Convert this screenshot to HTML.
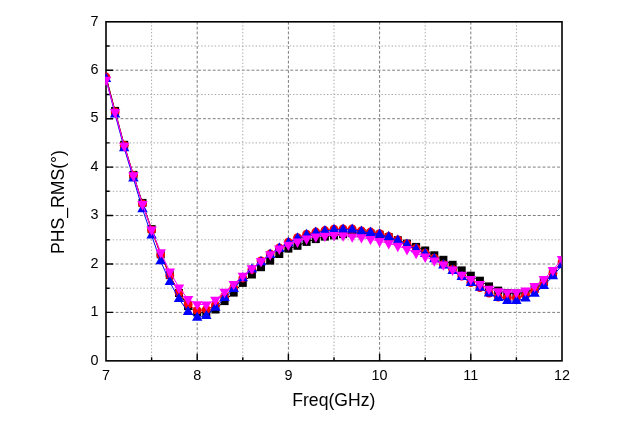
<!DOCTYPE html><html><head><meta charset="utf-8"><title>PHS_RMS</title><style>html,body{margin:0;padding:0;background:#fff}svg{display:block}text{font-family:"Liberation Sans",sans-serif;fill:#000}</style></head><body>
<svg width="624" height="425" viewBox="0 0 624 425">
<rect width="624" height="425" fill="#fff"/>
<defs><clipPath id="c"><rect x="105.20" y="21.80" width="456.30" height="339.05"/></clipPath></defs>
<g stroke="#7e7e7e" stroke-width="1" stroke-dasharray="2.9 1.95" fill="none"><line x1="106.0" y1="312.4" x2="562.0" y2="312.4"/><line x1="106.0" y1="264.0" x2="562.0" y2="264.0"/><line x1="106.0" y1="215.5" x2="562.0" y2="215.5"/><line x1="106.0" y1="167.1" x2="562.0" y2="167.1"/><line x1="106.0" y1="118.7" x2="562.0" y2="118.7"/><line x1="106.0" y1="70.2" x2="562.0" y2="70.2"/><line x1="197.2" y1="21.8" x2="197.2" y2="360.85"/><line x1="288.4" y1="21.8" x2="288.4" y2="360.85"/><line x1="379.6" y1="21.8" x2="379.6" y2="360.85"/><line x1="470.8" y1="21.8" x2="470.8" y2="360.85"/></g>
<g stroke="#a8a8a8" stroke-width="1" stroke-dasharray="1.4 2" fill="none"><line x1="106.0" y1="336.6" x2="562.0" y2="336.6"/><line x1="106.0" y1="288.2" x2="562.0" y2="288.2"/><line x1="106.0" y1="239.8" x2="562.0" y2="239.8"/><line x1="106.0" y1="191.3" x2="562.0" y2="191.3"/><line x1="106.0" y1="142.9" x2="562.0" y2="142.9"/><line x1="106.0" y1="94.5" x2="562.0" y2="94.5"/><line x1="106.0" y1="46.0" x2="562.0" y2="46.0"/><line x1="151.6" y1="21.8" x2="151.6" y2="360.85"/><line x1="242.8" y1="21.8" x2="242.8" y2="360.85"/><line x1="334.0" y1="21.8" x2="334.0" y2="360.85"/><line x1="425.2" y1="21.8" x2="425.2" y2="360.85"/><line x1="516.4" y1="21.8" x2="516.4" y2="360.85"/></g>
<path d="M106.0 336.6h3.6M106.0 312.4h7M106.0 288.2h3.6M106.0 264.0h7M106.0 239.8h3.6M106.0 215.5h7M106.0 191.3h3.6M106.0 167.1h7M106.0 142.9h3.6M106.0 118.7h7M106.0 94.5h3.6M106.0 70.2h7M106.0 46.0h3.6M151.6 360.85v-3.6M197.2 360.85v-7M242.8 360.85v-3.6M288.4 360.85v-7M334.0 360.85v-3.6M379.6 360.85v-7M425.2 360.85v-3.6M470.8 360.85v-7M516.4 360.85v-3.6" stroke="#000" stroke-width="1.4" fill="none"/>
<rect x="106.0" y="21.8" width="456.0" height="339.05" fill="none" stroke="#000" stroke-width="1.6"/>
<g clip-path="url(#c)">
<polyline fill="none" stroke="#000000" stroke-width="1" points="106.0,76.5 115.1,110.9 124.2,144.8 133.4,174.9 142.5,202.9 151.6,229.1 160.7,254.3 169.8,275.1 179.0,293.0 188.1,306.1 197.2,312.4 206.3,312.9 215.4,309.5 224.6,301.1 233.7,292.6 242.8,282.9 251.9,274.5 261.0,267.2 270.2,260.6 279.3,254.0 288.4,248.6 297.5,245.8 306.6,241.9 315.8,239.1 324.9,236.6 334.0,235.4 343.1,234.2 352.2,233.2 361.4,233.0 370.5,233.5 379.6,234.7 388.7,237.1 397.8,240.2 407.0,243.6 416.1,246.9 425.2,250.5 434.3,255.3 443.4,259.8 452.6,264.8 461.7,270.4 470.8,275.7 479.9,280.7 489.0,286.4 498.2,290.6 507.3,293.0 516.4,293.5 525.5,292.6 534.6,288.7 543.8,281.9 552.9,272.7 562.0,261.6"/>
<g fill="#000000"><rect x="111.1" y="106.9" width="8" height="8"/><rect x="120.2" y="140.8" width="8" height="8"/><rect x="129.4" y="170.9" width="8" height="8"/><rect x="138.5" y="198.9" width="8" height="8"/><rect x="147.6" y="225.1" width="8" height="8"/><rect x="156.7" y="250.3" width="8" height="8"/><rect x="165.8" y="271.1" width="8" height="8"/><rect x="175.0" y="289.0" width="8" height="8"/><rect x="184.1" y="302.1" width="8" height="8"/><rect x="193.2" y="308.4" width="8" height="8"/><rect x="202.3" y="308.9" width="8" height="8"/><rect x="211.4" y="305.5" width="8" height="8"/><rect x="220.6" y="297.1" width="8" height="8"/><rect x="229.7" y="288.6" width="8" height="8"/><rect x="238.8" y="278.9" width="8" height="8"/><rect x="247.9" y="270.5" width="8" height="8"/><rect x="257.0" y="263.2" width="8" height="8"/><rect x="266.2" y="256.6" width="8" height="8"/><rect x="275.3" y="250.0" width="8" height="8"/><rect x="284.4" y="244.6" width="8" height="8"/><rect x="293.5" y="241.8" width="8" height="8"/><rect x="302.6" y="237.9" width="8" height="8"/><rect x="311.8" y="235.1" width="8" height="8"/><rect x="320.9" y="232.6" width="8" height="8"/><rect x="330.0" y="231.4" width="8" height="8"/><rect x="339.1" y="230.2" width="8" height="8"/><rect x="348.2" y="229.2" width="8" height="8"/><rect x="357.4" y="229.0" width="8" height="8"/><rect x="366.5" y="229.5" width="8" height="8"/><rect x="375.6" y="230.7" width="8" height="8"/><rect x="384.7" y="233.1" width="8" height="8"/><rect x="393.8" y="236.2" width="8" height="8"/><rect x="403.0" y="239.6" width="8" height="8"/><rect x="412.1" y="242.9" width="8" height="8"/><rect x="421.2" y="246.5" width="8" height="8"/><rect x="430.3" y="251.3" width="8" height="8"/><rect x="439.4" y="255.8" width="8" height="8"/><rect x="448.6" y="260.8" width="8" height="8"/><rect x="457.7" y="266.4" width="8" height="8"/><rect x="466.8" y="271.7" width="8" height="8"/><rect x="475.9" y="276.7" width="8" height="8"/><rect x="485.0" y="282.4" width="8" height="8"/><rect x="494.2" y="286.6" width="8" height="8"/><rect x="503.3" y="289.0" width="8" height="8"/><rect x="512.4" y="289.5" width="8" height="8"/><rect x="521.5" y="288.6" width="8" height="8"/><rect x="530.6" y="284.7" width="8" height="8"/><rect x="539.8" y="277.9" width="8" height="8"/><rect x="548.9" y="268.7" width="8" height="8"/></g>
<polyline fill="none" stroke="#ff0000" stroke-width="1" points="106.0,77.0 115.1,111.9 124.2,145.3 133.4,175.3 142.5,203.9 151.6,230.1 160.7,254.8 169.8,275.4 179.0,292.6 188.1,304.3 197.2,310.5 206.3,309.5 215.4,305.1 224.6,296.4 233.7,287.7 242.8,278.0 251.9,269.3 261.0,260.8 270.2,254.0 279.3,247.8 288.4,242.2 297.5,237.6 306.6,234.2 315.8,232.0 324.9,230.5 334.0,229.2 343.1,228.9 352.2,228.9 361.4,230.8 370.5,232.0 379.6,233.7 388.7,236.3 397.8,239.8 407.0,243.9 416.1,248.3 425.2,253.1 434.3,258.2 443.4,264.5 452.6,269.3 461.7,276.1 470.8,282.6 479.9,287.7 489.0,293.2 498.2,297.1 507.3,297.9 516.4,297.9 525.5,295.5 534.6,290.6 543.8,282.9 552.9,273.2 562.0,262.0"/>
<g fill="#ff0000"><circle cx="106.0" cy="77.0" r="4.4"/><circle cx="115.1" cy="111.9" r="4.4"/><circle cx="124.2" cy="145.3" r="4.4"/><circle cx="133.4" cy="175.3" r="4.4"/><circle cx="142.5" cy="203.9" r="4.4"/><circle cx="151.6" cy="230.1" r="4.4"/><circle cx="160.7" cy="254.8" r="4.4"/><circle cx="169.8" cy="275.4" r="4.4"/><circle cx="179.0" cy="292.6" r="4.4"/><circle cx="188.1" cy="304.3" r="4.4"/><circle cx="197.2" cy="310.5" r="4.4"/><circle cx="206.3" cy="309.5" r="4.4"/><circle cx="215.4" cy="305.1" r="4.4"/><circle cx="224.6" cy="296.4" r="4.4"/><circle cx="233.7" cy="287.7" r="4.4"/><circle cx="242.8" cy="278.0" r="4.4"/><circle cx="251.9" cy="269.3" r="4.4"/><circle cx="261.0" cy="260.8" r="4.4"/><circle cx="270.2" cy="254.0" r="4.4"/><circle cx="279.3" cy="247.8" r="4.4"/><circle cx="288.4" cy="242.2" r="4.4"/><circle cx="297.5" cy="237.6" r="4.4"/><circle cx="306.6" cy="234.2" r="4.4"/><circle cx="315.8" cy="232.0" r="4.4"/><circle cx="324.9" cy="230.5" r="4.4"/><circle cx="334.0" cy="229.2" r="4.4"/><circle cx="343.1" cy="228.9" r="4.4"/><circle cx="352.2" cy="228.9" r="4.4"/><circle cx="361.4" cy="230.8" r="4.4"/><circle cx="370.5" cy="232.0" r="4.4"/><circle cx="379.6" cy="233.7" r="4.4"/><circle cx="388.7" cy="236.3" r="4.4"/><circle cx="397.8" cy="239.8" r="4.4"/><circle cx="407.0" cy="243.9" r="4.4"/><circle cx="416.1" cy="248.3" r="4.4"/><circle cx="425.2" cy="253.1" r="4.4"/><circle cx="434.3" cy="258.2" r="4.4"/><circle cx="443.4" cy="264.5" r="4.4"/><circle cx="452.6" cy="269.3" r="4.4"/><circle cx="461.7" cy="276.1" r="4.4"/><circle cx="470.8" cy="282.6" r="4.4"/><circle cx="479.9" cy="287.7" r="4.4"/><circle cx="489.0" cy="293.2" r="4.4"/><circle cx="498.2" cy="297.1" r="4.4"/><circle cx="507.3" cy="297.9" r="4.4"/><circle cx="516.4" cy="297.9" r="4.4"/><circle cx="525.5" cy="295.5" r="4.4"/><circle cx="534.6" cy="290.6" r="4.4"/><circle cx="543.8" cy="282.9" r="4.4"/><circle cx="552.9" cy="273.2" r="4.4"/><circle cx="562.0" cy="262.0" r="4.4"/></g>
<polyline fill="none" stroke="#0000ff" stroke-width="1" points="106.0,78.8 115.1,114.4 124.2,148.1 133.4,178.4 142.5,209.1 151.6,235.5 160.7,261.2 169.8,282.0 179.0,299.0 188.1,311.9 197.2,317.7 206.3,315.9 215.4,307.7 224.6,298.0 233.7,288.9 242.8,278.1 251.9,269.4 261.0,262.2 270.2,254.9 279.3,248.6 288.4,243.0 297.5,238.4 306.6,235.0 315.8,232.9 324.9,231.3 334.0,230.0 343.1,229.7 352.2,229.7 361.4,231.6 370.5,232.9 379.6,234.5 388.7,237.1 397.8,240.6 407.0,244.7 416.1,249.2 425.2,253.9 434.3,259.1 443.4,265.3 452.6,270.9 461.7,276.9 470.8,282.7 479.9,287.6 489.0,293.5 498.2,297.8 507.3,301.0 516.4,301.0 525.5,298.4 534.6,293.6 543.8,285.8 552.9,276.1 562.0,265.1"/>
<g fill="#0000ff"><polygon points="106.0,72.6 111.2,82.0 100.8,82.0"/><polygon points="115.1,108.2 120.3,117.6 109.9,117.6"/><polygon points="124.2,141.9 129.4,151.3 119.0,151.3"/><polygon points="133.4,172.1 138.6,181.5 128.2,181.5"/><polygon points="142.5,202.9 147.7,212.3 137.3,212.3"/><polygon points="151.6,229.2 156.8,238.6 146.4,238.6"/><polygon points="160.7,254.9 165.9,264.3 155.5,264.3"/><polygon points="169.8,275.7 175.0,285.1 164.6,285.1"/><polygon points="179.0,292.7 184.2,302.1 173.8,302.1"/><polygon points="188.1,305.7 193.3,315.1 182.9,315.1"/><polygon points="197.2,311.4 202.4,320.8 192.0,320.8"/><polygon points="206.3,309.7 211.5,319.1 201.1,319.1"/><polygon points="215.4,301.4 220.6,310.8 210.2,310.8"/><polygon points="224.6,291.7 229.8,301.1 219.4,301.1"/><polygon points="233.7,282.7 238.9,292.1 228.5,292.1"/><polygon points="242.8,271.9 248.0,281.3 237.6,281.3"/><polygon points="251.9,263.2 257.1,272.6 246.7,272.6"/><polygon points="261.0,255.9 266.2,265.3 255.8,265.3"/><polygon points="270.2,248.6 275.4,258.0 265.0,258.0"/><polygon points="279.3,242.3 284.5,251.7 274.1,251.7"/><polygon points="288.4,236.8 293.6,246.2 283.2,246.2"/><polygon points="297.5,232.2 302.7,241.6 292.3,241.6"/><polygon points="306.6,228.8 311.8,238.2 301.4,238.2"/><polygon points="315.8,226.6 321.0,236.0 310.6,236.0"/><polygon points="324.9,225.0 330.1,234.4 319.7,234.4"/><polygon points="334.0,223.7 339.2,233.1 328.8,233.1"/><polygon points="343.1,223.4 348.3,232.8 337.9,232.8"/><polygon points="352.2,223.4 357.4,232.8 347.0,232.8"/><polygon points="361.4,225.4 366.6,234.8 356.2,234.8"/><polygon points="370.5,226.6 375.7,236.0 365.3,236.0"/><polygon points="379.6,228.3 384.8,237.7 374.4,237.7"/><polygon points="388.7,230.8 393.9,240.2 383.5,240.2"/><polygon points="397.8,234.3 403.0,243.7 392.6,243.7"/><polygon points="407.0,238.5 412.2,247.9 401.8,247.9"/><polygon points="416.1,242.9 421.3,252.3 410.9,252.3"/><polygon points="425.2,247.7 430.4,257.1 420.0,257.1"/><polygon points="434.3,252.8 439.5,262.2 429.1,262.2"/><polygon points="443.4,259.0 448.6,268.4 438.2,268.4"/><polygon points="452.6,264.6 457.8,274.0 447.4,274.0"/><polygon points="461.7,270.7 466.9,280.1 456.5,280.1"/><polygon points="470.8,276.5 476.0,285.9 465.6,285.9"/><polygon points="479.9,281.3 485.1,290.7 474.7,290.7"/><polygon points="489.0,287.2 494.2,296.6 483.8,296.6"/><polygon points="498.2,291.5 503.4,300.9 493.0,300.9"/><polygon points="507.3,294.7 512.5,304.1 502.1,304.1"/><polygon points="516.4,294.7 521.6,304.1 511.2,304.1"/><polygon points="525.5,292.2 530.7,301.6 520.3,301.6"/><polygon points="534.6,287.4 539.8,296.8 529.4,296.8"/><polygon points="543.8,279.6 549.0,289.0 538.6,289.0"/><polygon points="552.9,269.8 558.1,279.2 547.7,279.2"/><polygon points="562.0,258.8 567.2,268.2 556.8,268.2"/></g>
<polyline fill="none" stroke="#ff00ff" stroke-width="1" points="106.0,79.8 115.1,112.3 124.2,145.8 133.4,175.4 142.5,204.1 151.6,229.7 160.7,252.3 169.8,271.7 179.0,287.6 188.1,299.2 197.2,304.4 206.3,304.5 215.4,299.9 224.6,291.8 233.7,284.1 242.8,275.8 251.9,268.5 261.0,261.1 270.2,254.4 279.3,248.7 288.4,244.8 297.5,241.6 306.6,238.7 315.8,236.5 324.9,235.8 334.0,235.2 343.1,235.6 352.2,236.5 361.4,237.4 370.5,239.1 379.6,241.2 388.7,243.3 397.8,245.9 407.0,249.2 416.1,253.1 425.2,256.7 434.3,260.6 443.4,264.5 452.6,269.7 461.7,274.8 470.8,279.1 479.9,284.1 489.0,288.8 498.2,291.4 507.3,292.3 516.4,292.3 525.5,290.7 534.6,286.2 543.8,279.2 552.9,270.1 562.0,259.1"/>
<g fill="#ff00ff"><polygon points="106.0,86.1 111.2,76.7 100.8,76.7"/><polygon points="115.1,118.5 120.3,109.1 109.9,109.1"/><polygon points="124.2,152.1 129.4,142.7 119.0,142.7"/><polygon points="133.4,181.7 138.6,172.3 128.2,172.3"/><polygon points="142.5,210.4 147.7,201.0 137.3,201.0"/><polygon points="151.6,235.9 156.8,226.5 146.4,226.5"/><polygon points="160.7,258.6 165.9,249.2 155.5,249.2"/><polygon points="169.8,278.0 175.0,268.6 164.6,268.6"/><polygon points="179.0,293.9 184.2,284.5 173.8,284.5"/><polygon points="188.1,305.5 193.3,296.1 182.9,296.1"/><polygon points="197.2,310.6 202.4,301.2 192.0,301.2"/><polygon points="206.3,310.8 211.5,301.4 201.1,301.4"/><polygon points="215.4,306.2 220.6,296.8 210.2,296.8"/><polygon points="224.6,298.1 229.8,288.7 219.4,288.7"/><polygon points="233.7,290.3 238.9,280.9 228.5,280.9"/><polygon points="242.8,282.1 248.0,272.7 237.6,272.7"/><polygon points="251.9,274.7 257.1,265.3 246.7,265.3"/><polygon points="261.0,267.4 266.2,258.0 255.8,258.0"/><polygon points="270.2,260.7 275.4,251.3 265.0,251.3"/><polygon points="279.3,255.0 284.5,245.6 274.1,245.6"/><polygon points="288.4,251.1 293.6,241.7 283.2,241.7"/><polygon points="297.5,247.9 302.7,238.5 292.3,238.5"/><polygon points="306.6,244.9 311.8,235.5 301.4,235.5"/><polygon points="315.8,242.8 321.0,233.4 310.6,233.4"/><polygon points="324.9,242.1 330.1,232.7 319.7,232.7"/><polygon points="334.0,241.5 339.2,232.1 328.8,232.1"/><polygon points="343.1,241.8 348.3,232.4 337.9,232.4"/><polygon points="352.2,242.8 357.4,233.4 347.0,233.4"/><polygon points="361.4,243.6 366.6,234.2 356.2,234.2"/><polygon points="370.5,245.3 375.7,235.9 365.3,235.9"/><polygon points="379.6,247.5 384.8,238.1 374.4,238.1"/><polygon points="388.7,249.6 393.9,240.2 383.5,240.2"/><polygon points="397.8,252.2 403.0,242.8 392.6,242.8"/><polygon points="407.0,255.5 412.2,246.1 401.8,246.1"/><polygon points="416.1,259.3 421.3,249.9 410.9,249.9"/><polygon points="425.2,263.0 430.4,253.6 420.0,253.6"/><polygon points="434.3,266.8 439.5,257.4 429.1,257.4"/><polygon points="443.4,270.8 448.6,261.4 438.2,261.4"/><polygon points="452.6,275.9 457.8,266.5 447.4,266.5"/><polygon points="461.7,281.1 466.9,271.7 456.5,271.7"/><polygon points="470.8,285.4 476.0,276.0 465.6,276.0"/><polygon points="479.9,290.4 485.1,281.0 474.7,281.0"/><polygon points="489.0,295.1 494.2,285.7 483.8,285.7"/><polygon points="498.2,297.6 503.4,288.2 493.0,288.2"/><polygon points="507.3,298.6 512.5,289.2 502.1,289.2"/><polygon points="516.4,298.6 521.6,289.2 511.2,289.2"/><polygon points="525.5,297.0 530.7,287.6 520.3,287.6"/><polygon points="534.6,292.5 539.8,283.1 529.4,283.1"/><polygon points="543.8,285.4 549.0,276.0 538.6,276.0"/><polygon points="552.9,276.4 558.1,267.0 547.7,267.0"/><polygon points="562.0,265.4 567.2,256.0 556.8,256.0"/></g>
</g>
<g font-size="15.3px" text-anchor="end">
<text transform="translate(98.5 364.6) scale(.94 1)">0</text>
<text transform="translate(98.5 316.1) scale(.94 1)">1</text>
<text transform="translate(98.5 267.7) scale(.94 1)">2</text>
<text transform="translate(98.5 219.2) scale(.94 1)">3</text>
<text transform="translate(98.5 170.8) scale(.94 1)">4</text>
<text transform="translate(98.5 122.4) scale(.94 1)">5</text>
<text transform="translate(98.5 73.9) scale(.94 1)">6</text>
<text transform="translate(98.5 25.5) scale(.94 1)">7</text>
</g>
<g font-size="15.3px" text-anchor="middle">
<text transform="translate(106.0 379.6) scale(.94 1)">7</text>
<text transform="translate(197.2 379.6) scale(.94 1)">8</text>
<text transform="translate(288.4 379.6) scale(.94 1)">9</text>
<text transform="translate(379.6 379.6) scale(.94 1)">10</text>
<text transform="translate(470.8 379.6) scale(.94 1)">11</text>
<text transform="translate(562.0 379.6) scale(.94 1)">12</text>
</g>
<text x="333.8" y="405.8" font-size="17.6px" text-anchor="middle">Freq(GHz)</text>
<text transform="translate(64.2 202) rotate(-90)" font-size="17.6px" text-anchor="middle">PHS_RMS(°)</text>
</svg></body></html>
